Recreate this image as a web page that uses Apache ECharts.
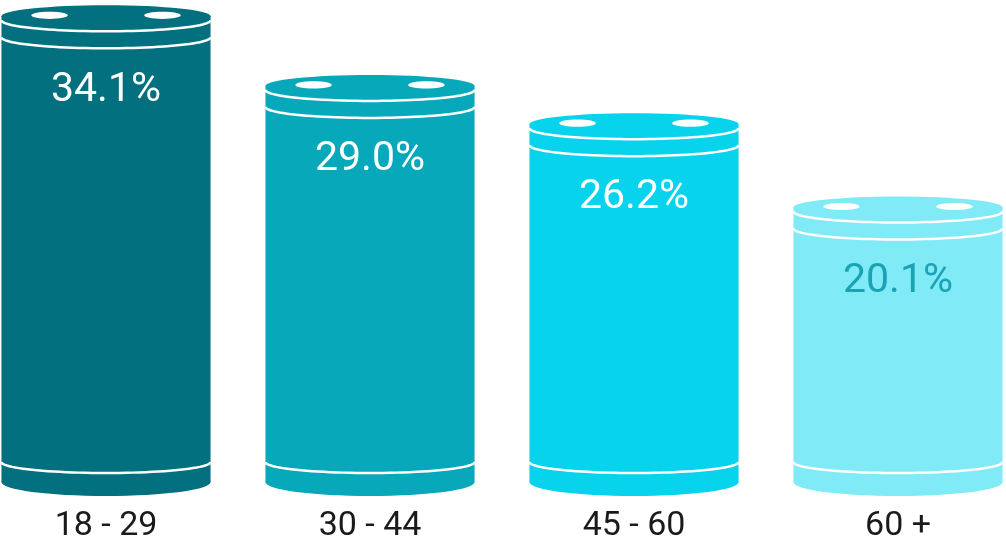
<!DOCTYPE html>
<html>
<head>
<meta charset="utf-8">
<script src="https://cdn.jsdelivr.net/npm/echarts@6/dist/echarts.min.js"></script>
<style>
html,body{margin:0;padding:0;background:#fff;}
#c{width:1006px;height:543px;}
</style>
</head>
<body>
<div id="c"></div>
<script>
const categories = ['18 - 29', '30 - 44', '45 - 60', '60 +'];
const values = [34.1, 29.0, 26.2, 20.1];
const colors = ['#02707E', '#06A8BA', '#07D3EC', '#80EAF6'];
const labelColors = ['#ffffff', '#ffffff', '#ffffff', '#19A3B5'];

function arcPoints(cx, cy, rx, ry, n) {
  const pts = [];
  for (let i = 0; i <= n; i++) {
    const t = Math.PI * i / n;
    pts.push([cx - rx * Math.cos(t), cy + ry * Math.sin(t)]);
  }
  return pts;
}

const chart = echarts.init(document.getElementById('c'), null, {renderer: 'canvas'});
chart.setOption({
  backgroundColor: '#ffffff',
  animation: false,
  grid: {left: -26, right: -24, top: 4, bottom: 61, outerBoundsMode: 'none', containLabel: false},
  xAxis: {
    type: 'category',
    data: categories,
    axisLine: {show: false},
    axisTick: {show: false},
    splitLine: {show: false},
    axisLabel: {fontSize: 34, color: '#1a1a1a', fontFamily: 'Roboto', margin: 27}
  },
  yAxis: {type: 'value', min: 0, max: 35, show: false, splitLine: {show: false}},
  series: [{
    type: 'custom',
    data: values.map((v, i) => [i, v]),
    renderItem: function (params, api) {
      const i = params.dataIndex;
      const top = api.coord([api.value(0), api.value(1)]);
      const base = api.coord([api.value(0), 0]);
      const R = api.size([1, 0])[0] * 0.396;
      const cx = top[0], yT = top[1], yB = base[1];
      const col = colors[i];
      const white = '#ffffff';
      return {
        type: 'group',
        children: [
          {type: 'rect', shape: {x: cx - R, y: yT, width: 2 * R, height: yB - yT}, style: {fill: col}},
          {type: 'ellipse', shape: {cx: cx, cy: yB, rx: R, ry: 14}, style: {fill: col}},
          {type: 'ellipse', shape: {cx: cx, cy: yT, rx: R, ry: 11}, style: {fill: col}},
          {type: 'polyline', shape: {points: arcPoints(cx, yT + 4, R, 11, 48)}, style: {stroke: white, lineWidth: 2.5, fill: null}},
          {type: 'polyline', shape: {points: arcPoints(cx, yT + 21, R, 11, 48)}, style: {stroke: white, lineWidth: 2.5, fill: null}},
          {type: 'polyline', shape: {points: arcPoints(cx, yB - 20, R, 11, 48)}, style: {stroke: white, lineWidth: 2.5, fill: null}},
          {type: 'ellipse', shape: {cx: cx - R * 0.54, cy: yT - 1, rx: R * 0.175, ry: 3.6}, style: {fill: white}},
          {type: 'ellipse', shape: {cx: cx + R * 0.54, cy: yT - 1, rx: R * 0.175, ry: 3.6}, style: {fill: white}},
          {type: 'text', style: {
            x: cx, y: yT + 74, text: values[i].toFixed(1) + '%',
            fill: labelColors[i], fontSize: 41, fontFamily: 'Roboto',
            align: 'center', verticalAlign: 'middle'
          }}
        ]
      };
    }
  }]
});
</script>
</body>
</html>
